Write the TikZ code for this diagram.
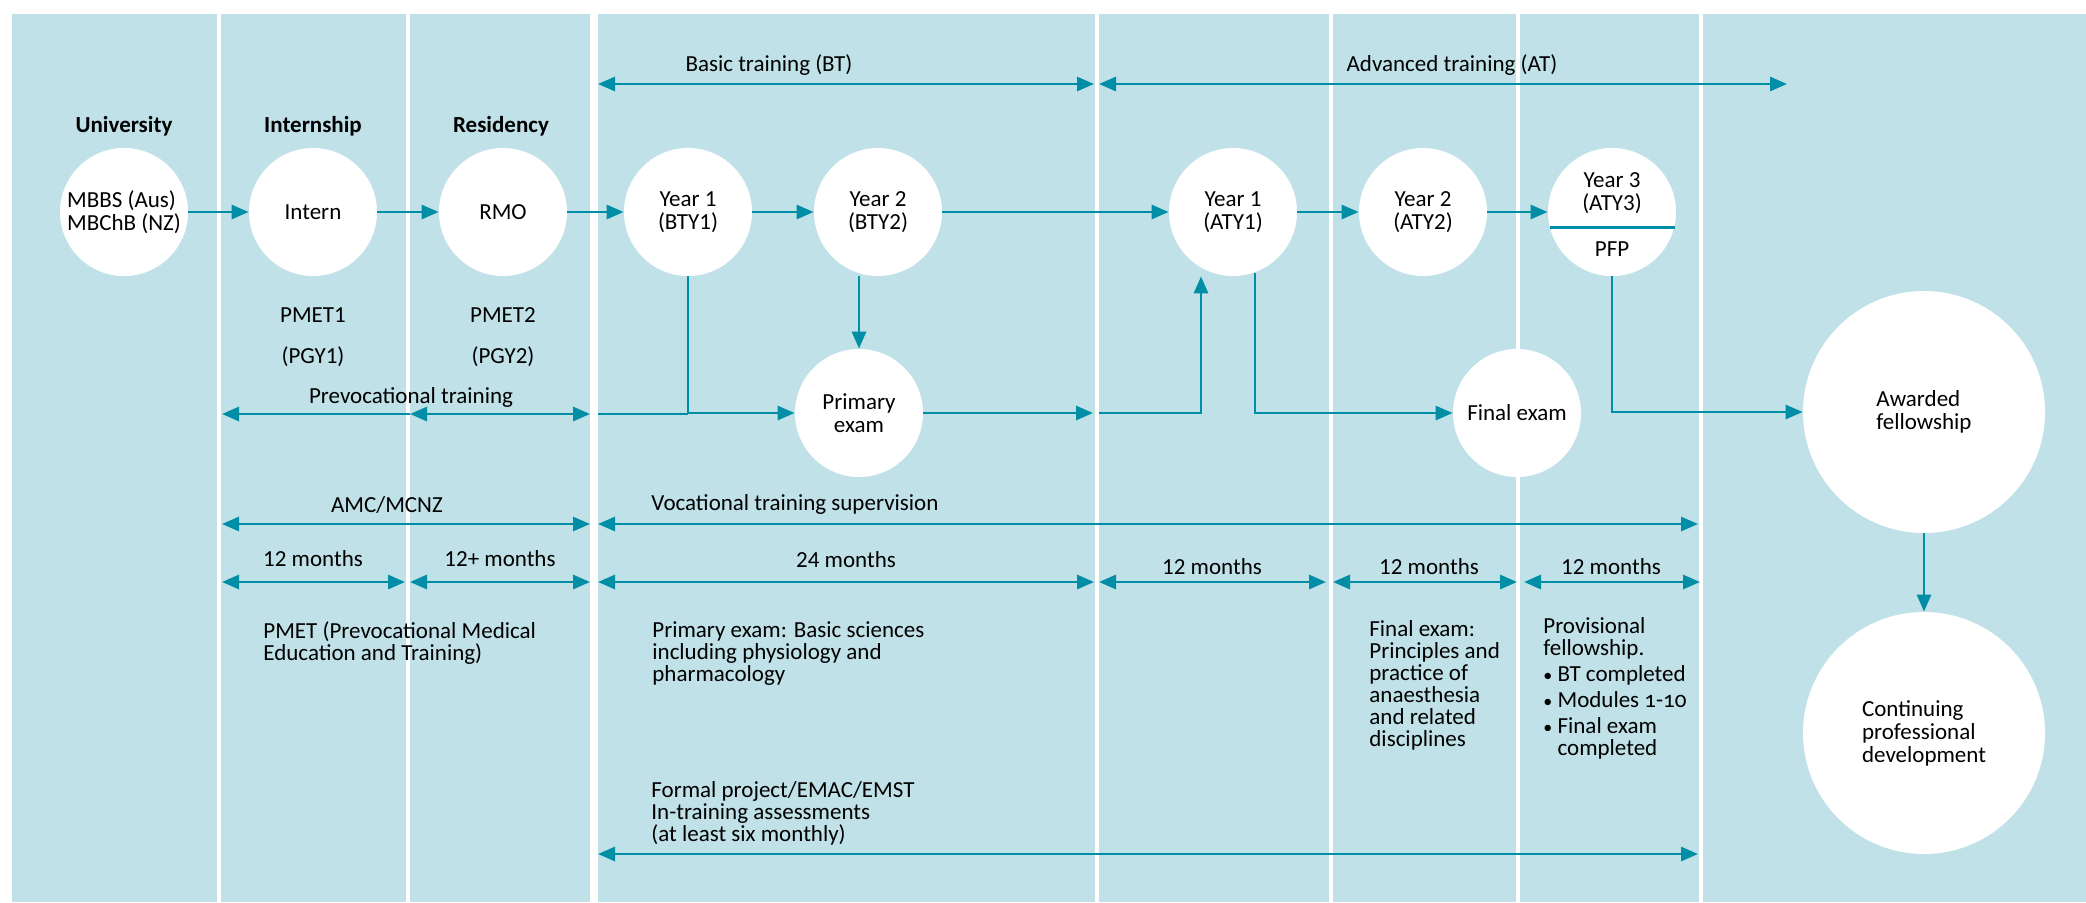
\documentclass[tikz,border=0pt]{standalone}
\usepackage{fontspec}
\setmainfont{Carlito}
\usetikzlibrary{arrows.meta}
\definecolor{panel}{RGB}{191,225,231}
\definecolor{petrol}{RGB}{0,142,166}
\begin{document}
\begin{tikzpicture}[x=.5pt,y=-.5pt,
    stage/.style={circle,fill=white,minimum size=64pt,inner sep=0pt,align=center,
      font=\fontsize{11.5}{11.5}\selectfont},
    big/.style={stage,minimum size=121pt,align=left},
    arr/.style={petrol,line width=1.4pt,-{Triangle[length=8.5pt,width=7pt]}},
    span/.style={petrol,line width=1.4pt,{Triangle[length=8.5pt,width=7pt]}-{Triangle[length=8.5pt,width=7pt]}},
    lbl/.style={anchor=base,inner sep=0pt,font=\fontsize{11.5}{11.5}\selectfont},
    note/.style={anchor=north west,inner sep=0pt,align=left,font=\fontsize{11.5}{11}\selectfont}]
  \useasboundingbox (0,0) rectangle (2086,902);
  \fill[panel] (12,14) rectangle (2086,902);
  \foreach \x in {219,408,1097,1331,1518,1701}{
    \fill[white] (\x-2,14) rectangle (\x+2,902);
  }
  \fill[white] (590,14) rectangle (598,902);

  \node[lbl] (hUni) at (124,132) {\bfseries University};
  \node[lbl] (hInt) at (313,132) {\bfseries Internship};
  \node[lbl] (hRes) at (501,132) {\bfseries Residency};
  \node[lbl] (pmet1) at (313,322) {PMET1};
  \node[lbl] (pgy1) at (313,363) {(PGY1)};
  \node[lbl] (pmet2) at (503,322) {PMET2};
  \node[lbl] (pgy2) at (503,363) {(PGY2)};

  \node[stage,align=left] (uni) at (124,212) {MBBS (Aus)\\MBChB (NZ)};
  \node[stage] (intern) at (313,212) {Intern};
  \node[stage] (rmo) at (503,212) {RMO};
  \node[stage] (bty1) at (688,212) {Year 1\\(BTY1)};
  \node[stage] (bty2) at (878,212) {Year 2\\(BTY2)};
  \node[stage] (aty1) at (1233,212) {Year 1\\(ATY1)};
  \node[stage] (aty2) at (1423,212) {Year 2\\(ATY2)};
  \node[stage] (aty3) at (1612,212) {};
  \node[lbl,align=center,anchor=center] (aty3t) at (1612,193) {Year 3\\(ATY3)};
  \node[lbl] (pfp) at (1612,256) {PFP};
  \draw[petrol,line width=1.4pt] (aty3.194) -- (aty3.346);
  \node[stage] (pexam) at (859,413) {Primary\\exam};
  \node[stage] (fexam) at (1517,413) {Final exam};
  \node[big] (award) at (1924,412) {Awarded\\fellowship};
  \node[big] (cpd) at (1924,733) {Continuing\\professional\\development};

  \foreach \a/\b in {uni/intern,intern/rmo,rmo/bty1,bty1/bty2,bty2/aty1,aty1/aty2,aty2/aty3}{
    \draw[arr] (\a) -- (\b);
  }
  \draw[arr] (pexam.north |- bty2.south) -- (pexam.north);
  \draw[arr] (bty1.south) |- (pexam.west);

  \coordinate (pv0) at (222,414);
  \coordinate (pv1) at (410,414);
  \coordinate (pv2) at (590,414);
  \coordinate (pv3) at (598,414);
  \draw[arr] (pv1) -- (pv0);
  \draw[span] (pv1) -- (pv2);
  \draw[petrol,line width=1.4pt] (pv3) -- (bty1.south |- pv3);
  \node[lbl] (prevoc) at (411,403) {Prevocational training};

  \coordinate (pe1) at (1093,413);
  \coordinate (pe2) at (1099,413);
  \draw[arr] (pexam) -- (pe1);
  \draw[arr] (pe2) -| ([xshift=-16pt]aty1.south);
  \draw[arr] (aty1.-70) |- (fexam.west);
  \draw[arr] (aty3.south) |- (award.west);
  \draw[arr] (award) -- (cpd);

  \coordinate (bt0) at (598,84);
  \coordinate (bt1) at (1094,84);
  \coordinate (at0) at (1099,84);
  \coordinate (at1) at (1787,84);
  \draw[span] (bt0) -- (bt1);
  \draw[span] (at0) -- (at1);
  \node[lbl] (btl) at (769,71) {Basic training (BT)};
  \node[lbl] (atl) at (1452,71) {Advanced training (AT)};

  \coordinate (amc0) at (222,524);
  \coordinate (amc1) at (590,524);
  \coordinate (vts0) at (598,524);
  \coordinate (vts1) at (1698,524);
  \draw[span] (amc0) -- (amc1);
  \draw[span] (vts0) -- (vts1);
  \node[lbl] (amcl) at (387,512) {AMC/MCNZ};
  \node[lbl,anchor=base west] (vtsl) at (651,510) {Vocational training supervision};

  \foreach \xa/\xb/\xl/\yl/\txt [count=\i] in {222/405/313/566/12 months,
      410/590/500/566/12+ months, 598/1094/846/567/24 months,
      1099/1326/1212/574/12 months, 1333/1517/1429/574/12 months,
      1524/1700/1611/574/12 months}{
    \coordinate (ma\i) at (\xa,582);
    \coordinate (mb\i) at (\xb,582);
    \draw[span] (ma\i) -- (mb\i);
    \node[lbl] (mt\i) at (\xl,\yl) {\txt};
  }

  \node[note] (pmetn) at (263,621) {PMET (Prevocational Medical\\Education and Training)};
  \node[note] (pexn) at (652,621) {Primary exam: Basic sciences\\including physiology and\\pharmacology};
  \node[note] (fexn) at (1369,620) {Final exam:\\Principles and\\practice of\\anaesthesia\\and related\\disciplines};
  \node[note] (pfpn) at (1543,617) {Provisional\\fellowship.\\[2pt]
    {\small\textbullet}\ BT completed\\[2pt]
    {\small\textbullet}\ Modules {\addfontfeatures{Numbers=OldStyle}1-10}\\[2pt]
    {\small\textbullet}\ Final exam\\
    \hphantom{{\small\textbullet}\ }completed};
  \node[note] (formn) at (651,781) {Formal project/EMAC/EMST\\In-training assessments\\(at least six monthly)};

  \coordinate (fp0) at (598,854);
  \coordinate (fp1) at (1698,854);
  \draw[span] (fp0) -- (fp1);
\end{tikzpicture}
\end{document}
